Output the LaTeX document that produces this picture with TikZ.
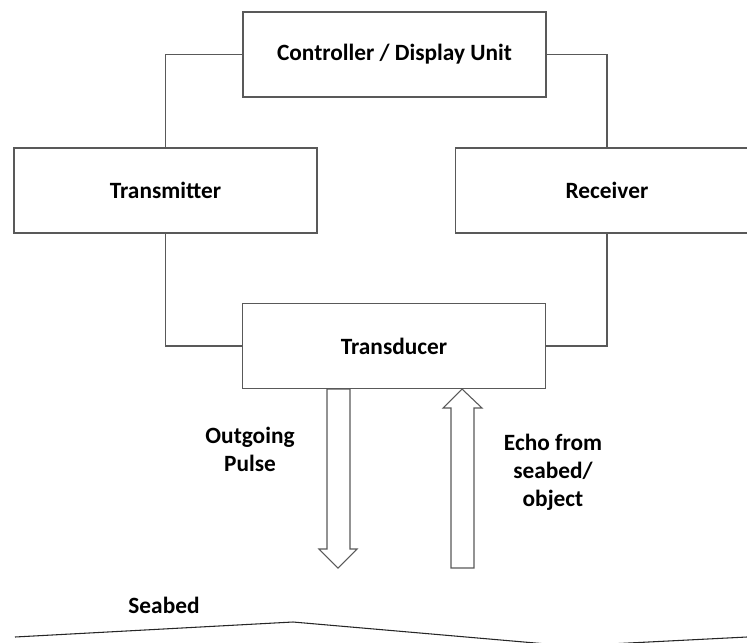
\documentclass[tikz,border=0pt]{standalone}
\usepackage{fontspec}
\setmainfont{Carlito}
\begin{document}
\begin{tikzpicture}[x=0.75pt,y=-0.75pt,
  unitbox/.style={draw=black!65, line width=0.8pt, rectangle, inner sep=0pt,
    minimum width=227.25pt, minimum height=63.75pt,
    font=\fontsize{17.5}{21}\selectfont\bfseries},
  wire/.style={draw=black!65, line width=0.8pt},
  flow/.style={draw=black!65, line width=0.8pt, fill=white, line join=miter},
  caption/.style={font=\fontsize{17.5}{21}\selectfont\bfseries, align=center, inner sep=0pt}]
  \useasboundingbox (0,0) rectangle (747,643);
  \clip (0,0) rectangle (747,643);

  % functional blocks
  \node[unitbox] (ctrl) at (394.5,54.5) {Controller / Display Unit};
  \node[unitbox] (tx)   at (165.5,190.5) {Transmitter};
  \node[unitbox] (rx)   at (607,190.5) {Receiver};
  \node[unitbox] (td)   at (394,346) {Transducer};

  % signal wiring
  \draw[wire] (ctrl.west) -| (tx.north);
  \draw[wire] (ctrl.east) -| (rx.north);
  \draw[wire] (tx.south) |- (td.west);
  \draw[wire] (rx.south) |- (td.east);

  % outgoing pulse (downward block arrow)
  \draw[flow] (327,389) -- (350,389) -- (350,549) -- (357,549) -- (338,568)
    -- (319,549) -- (327,549) -- cycle;
  % returning echo (upward block arrow)
  \draw[flow] (462,389) -- (482,408) -- (474,408) -- (474,568) -- (451,568)
    -- (451,408) -- (443,408) -- cycle;

  \node[caption] (out)  at (250,449) {Outgoing\\Pulse};
  \node[caption] (echo) at (553,472) {Echo from\\seabed/\\object};

  % seabed profile
  \node[caption] (sea) at (164,605) {Seabed};
  \draw[black!85, line width=0.8pt] (15,637) -- (293,622) -- (570,646) -- (747,637);
\end{tikzpicture}
\end{document}
